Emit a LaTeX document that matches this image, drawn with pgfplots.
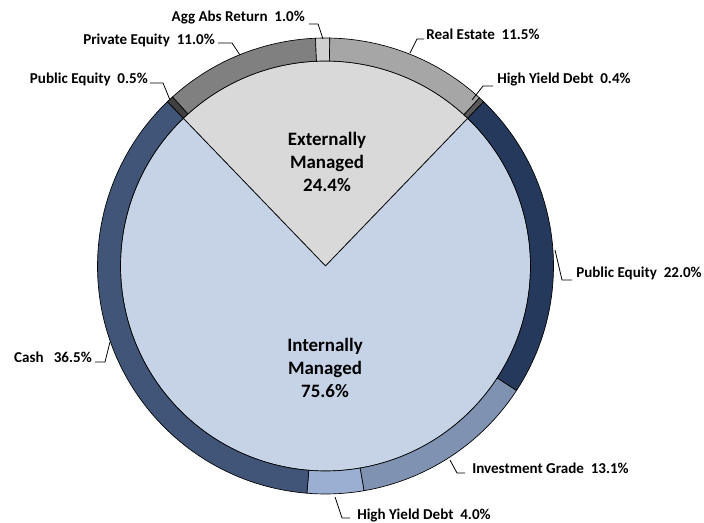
\documentclass[border=0pt]{standalone}
\usepackage{pgfplots}
\pgfplotsset{compat=1.18}
\usepackage{fontspec}
\setmainfont{Carlito}
\definecolor{innerInt}{HTML}{C6D3E7}
\definecolor{innerExt}{HTML}{D9D9D9}
\definecolor{cCash}{HTML}{415578}
\definecolor{cPubEq}{HTML}{25395C}
\definecolor{cInvGr}{HTML}{7F92B2}
\definecolor{cHYint}{HTML}{9BAFD2}
\definecolor{cHYext}{HTML}{595959}
\definecolor{cRealEst}{HTML}{A6A6A6}
\definecolor{cAgg}{HTML}{D0D0D0}
\definecolor{cPrivEq}{HTML}{808080}
\definecolor{cPubEqExt}{HTML}{404040}
% base angle of the left edge of the "Externally Managed" wedge: 90 + 1.8*24.4
\newcommand{\baseA}{133.92}
% ring segment: #1 cumulative percent before, #2 value percent, #3 colour
\newcommand{\seg}[3]{%
\filldraw[fill=#3,draw=black,line width=0.5pt]
 ([shift={({\baseA-3.6*(#1)}:171pt)}]C)
 arc[start angle={\baseA-3.6*(#1)}, end angle={\baseA-3.6*(#1+#2)}, radius=171pt]
 -- ([shift={({\baseA-3.6*(#1+#2)}:153.75pt)}]C)
 arc[start angle={\baseA-3.6*(#1+#2)}, end angle={\baseA-3.6*(#1)}, radius=153.75pt]
 -- cycle;}
% inner wedge: #1 cumulative percent before, #2 value, #3 colour
\newcommand{\wedgeslice}[3]{%
\filldraw[fill=#3,draw=black,line width=0.5pt]
 (C) -- ([shift={({\baseA-3.6*(#1)}:153.75pt)}]C)
 arc[start angle={\baseA-3.6*(#1)}, end angle={\baseA-3.6*(#1+#2)}, radius=153.75pt]
 -- cycle;}
\tikzset{lbl/.style={font=\fontsize{11.3}{13.5}\selectfont\bfseries, inner sep=0pt},
 ctr/.style={font=\fontsize{14.2}{17.3}\selectfont\bfseries, align=center, inner sep=0pt},
 ldr/.style={draw=black, line width=0.6pt}}
\begin{document}
\begin{tikzpicture}
\begin{axis}[x=0.75pt, y=0.75pt, xmin=0, xmax=704, ymin=0, ymax=523,
  hide axis, scale only axis, clip=false]
\path (axis cs:0,0) rectangle (axis cs:704,523);
\coordinate (C) at (axis cs:325.5,257);
% inner pie: Externally 24.4, Internally 75.6
\wedgeslice{0}{24.4}{innerExt}
\wedgeslice{24.4}{75.6}{innerInt}
% outer ring, clockwise from the left edge of the external wedge
\seg{0}{0.5}{cPubEqExt}
\seg{0.5}{11.0}{cPrivEq}
\seg{11.5}{1.0}{cAgg}
\seg{12.5}{11.5}{cRealEst}
\seg{24.0}{0.4}{cHYext}
\seg{24.4}{22.0}{cPubEq}
\seg{46.4}{13.1}{cInvGr}
\seg{59.5}{4.0}{cHYint}
\seg{63.5}{36.5}{cCash}
% centre labels
\node[ctr] at (axis cs:327,361) {Externally\\Managed\\24.4\%};
\node[ctr] at (axis cs:325,155) {Internally\\Managed\\75.6\%};
% leaders and labels
\draw[ldr] (axis cs:309,499) -- (axis cs:318,499) -- (axis cs:323,484);
\node[lbl,anchor=east] at (axis cs:305,505) {Agg Abs Return\ \ 1.0\%};
\draw[ldr] (axis cs:218,480) -- (axis cs:232,480) -- (axis cs:240,468);
\node[lbl,anchor=east] at (axis cs:215,483) {Private Equity\ \ 11.0\%};
\draw[ldr] (axis cs:410,470) -- (axis cs:417,484) -- (axis cs:424,484);
\node[lbl,anchor=west] at (axis cs:426,489) {Real Estate\ \ 11.5\%};
\draw[ldr] (axis cs:472,423) -- (axis cs:483,437) -- (axis cs:493,437);
\node[lbl,anchor=west] at (axis cs:497,443) {High Yield Debt\ \ 0.4\%};
\draw[ldr] (axis cs:150,440) -- (axis cs:163,440) -- (axis cs:170,423);
\node[lbl,anchor=east] at (axis cs:148,444) {Public Equity\ \ 0.5\%};
\draw[ldr] (axis cs:95,161) -- (axis cs:105,161) -- (axis cs:110,181);
\node[lbl,anchor=east] at (axis cs:92,166) {Cash\ \ \ 36.5\%};
\draw[ldr] (axis cs:555,273) -- (axis cs:562,243) -- (axis cs:572,243);
\node[lbl,anchor=west] at (axis cs:576,250) {Public Equity\ \ 22.0\%};
\draw[ldr] (axis cs:450,63) -- (axis cs:457,50) -- (axis cs:465,50);
\node[lbl,anchor=west] at (axis cs:472,55) {Investment Grade\ \ 13.1\%};
\draw[ldr] (axis cs:335,26) -- (axis cs:342,5) -- (axis cs:350,5);
\node[lbl,anchor=west] at (axis cs:357,8) {High Yield Debt\ \ 4.0\%};
\end{axis}
\end{tikzpicture}
\end{document}
